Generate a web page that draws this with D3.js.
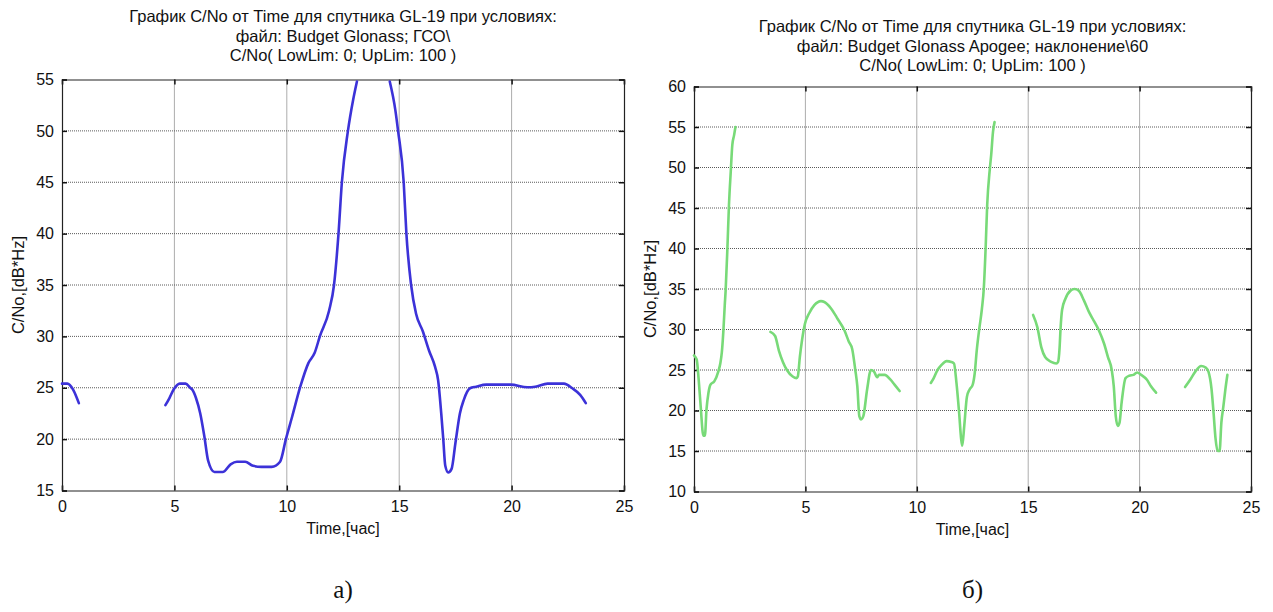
<!DOCTYPE html>
<html><head><meta charset="utf-8">
<script src="https://cdn.jsdelivr.net/npm/d3@7"></script>
<style>
html,body{margin:0;padding:0;background:#fff;}
text{font-family:"Liberation Sans",Arial,sans-serif;fill:#111;}
</style></head>
<body><svg id="c" width="1273" height="612"></svg>
<script>
// ---- data ----
const xTicks = [0, 5, 10, 15, 20, 25];
const yTicksA = [15, 20, 25, 30, 35, 40, 45, 50, 55];
const yTicksB = [10, 15, 20, 25, 30, 35, 40, 45, 50, 55, 60];

const titleA = ["График C/No от Time для спутника GL-19 при условиях:", "файл: Budget Glonass; ГСО\\", "C/No( LowLim: 0; UpLim: 100 )"];
const titleB = ["График C/No от Time для спутника GL-19 при условиях:", "файл: Budget Glonass Apogee; наклонение\\60", "C/No( LowLim: 0; UpLim: 100 )"];
const xLabel = "Time,[час]";
const yLabel = "C/No,[dB*Hz]";
const captions = ["а)", "б)"];

const blueSeg1 = [[0,25.4],[0.24,25.4],[0.5,24.8],[0.75,23.5]];
const blueSeg2 = [[4.6,23.3],[4.78,24.0],[4.96,24.8],[5.24,25.4],[5.5,25.4],[5.7,25.0],[5.8,24.8],[5.96,24.0],[6.15,22.5],[6.33,20.3],[6.5,17.9],[6.78,16.8],[7.15,16.8],[7.5,17.55],[7.78,17.8],[8.15,17.8],[8.5,17.4],[8.87,17.3],[9.33,17.3],[9.7,17.8],[9.96,20.0],[10.24,22.2],[10.6,25.1],[10.96,27.4],[11.24,28.4],[11.47,30.0],[11.88,32.5],[12.1,35],[12.3,40],[12.45,45],[12.72,50],[12.95,53],[13.12,54.8]];
const blueSeg3 = [[14.58,54.8],[14.83,52],[14.95,50],[15.2,45],[15.32,40],[15.53,35],[15.75,32.2],[16.05,30.5],[16.33,28.6],[16.6,27.0],[16.73,25.75],[16.87,22.5],[16.96,20.0],[17.05,17.4],[17.18,16.75],[17.33,17.1],[17.5,19.6],[17.7,22.5],[17.87,23.8],[18.15,24.95],[18.42,25.1],[18.87,25.3],[19.96,25.3],[20.7,25.05],[21.05,25.1],[21.6,25.4],[22.33,25.4],[22.7,24.95],[23.05,24.3],[23.3,23.5]];

const greenSeg1 = [[0,26.8],[0.12,26.3],[0.21,23.8],[0.3,20.5],[0.42,16.9],[0.49,16.9],[0.56,20.1],[0.65,22.2],[0.74,23.2],[0.91,23.6],[1.09,24.8],[1.18,25.8],[1.25,27.2],[1.32,29.9],[1.38,33],[1.42,34.8],[1.5,40.1],[1.57,45.4],[1.65,49.5],[1.72,52.8],[1.8,54],[1.86,55.0]];
const greenSeg2 = [[3.43,29.7],[3.64,29.2],[3.81,27.4],[3.99,26.0],[4.17,25.0],[4.43,24.2],[4.6,24.0],[4.66,24.2],[4.75,26.6],[4.85,28.7],[4.98,30.7],[5.17,32.0],[5.4,33.0],[5.7,33.5],[5.85,33.4],[6.15,32.6],[6.45,31.3],[6.75,29.9],[6.95,28.5],[7.1,27.6],[7.24,25.0],[7.33,23.0],[7.42,19.3],[7.5,18.9],[7.6,19.3],[7.77,22.6],[7.94,25.0],[8.08,24.8],[8.22,24.1],[8.3,24.4],[8.56,24.4],[8.82,23.8],[9.0,23.2],[9.23,22.4]];
const greenSeg3 = [[10.63,23.4],[10.76,24.0],[10.93,25.0],[11.1,25.6],[11.34,26.1],[11.55,26.0],[11.67,25.8],[11.78,23.4],[11.9,19.7],[11.99,16.5],[12.04,15.65],[12.13,18.1],[12.25,21.7],[12.37,22.6],[12.51,23.2],[12.6,24.6],[12.69,27.4],[12.8,30],[12.92,32.5],[13.01,35.2],[13.09,40.1],[13.16,45.4],[13.28,49.9],[13.34,51.6],[13.42,54.4],[13.49,55.6]];
const greenSeg4 = [[15.22,31.8],[15.41,30.3],[15.59,27.8],[15.76,26.6],[16.03,26.0],[16.26,25.8],[16.34,26.0],[16.41,27.8],[16.45,30],[16.52,32.4],[16.67,33.8],[16.9,34.8],[17.08,35.0],[17.27,34.8],[17.5,33.6],[17.72,32.2],[17.94,31.1],[18.17,29.9],[18.4,28.3],[18.58,26.6],[18.75,25.0],[18.84,23.0],[18.93,19.3],[19.02,18.1],[19.1,18.5],[19.19,20.9],[19.37,24.0],[19.54,24.3],[19.72,24.4],[19.89,24.7],[20.07,24.4],[20.33,23.8],[20.51,23.0],[20.74,22.2]];
const greenSeg5 = [[22.04,22.9],[22.27,23.8],[22.5,24.8],[22.76,25.5],[22.97,25.3],[23.09,24.8],[23.23,22.6],[23.32,19.7],[23.41,16.5],[23.5,15.0],[23.59,15.0],[23.67,18.5],[23.76,20.5],[23.85,22.6],[23.94,24.4]];

// ---- drawing ----
const svg = d3.select("#c");

function panel(cfg) {
  const {left, right, top, bottom, yDomain, yTicks, title, titleY, segs, color, caption} = cfg;
  const x = d3.scaleLinear().domain([0, 25]).range([left, right]);
  const y = d3.scaleLinear().domain(yDomain).range([bottom, top]);
  const g = svg.append("g");
  const cx = (left + right) / 2;

  // grid
  g.selectAll(".gx").data(xTicks.slice(1, -1)).enter().append("line")
    .attr("x1", d => x(d)).attr("x2", d => x(d)).attr("y1", top).attr("y2", bottom)
    .attr("stroke", "#5a5a5a").attr("stroke-width", 1).attr("stroke-dasharray", "1,1");
  g.selectAll(".gy").data(yTicks.slice(1, -1)).enter().append("line")
    .attr("y1", d => y(d)).attr("y2", d => y(d)).attr("x1", left).attr("x2", right)
    .attr("stroke", "#5a5a5a").attr("stroke-width", 1).attr("stroke-dasharray", "1,1");

  // axes (MATLAB-like: inward ticks on all four sides)
  const tl = 5;
  const axB = d3.axisBottom(x).tickValues(xTicks).tickSize(-tl).tickPadding(tl + 5).tickFormat(d3.format("d"));
  const axT = d3.axisTop(x).tickValues(xTicks).tickSize(-tl).tickFormat("");
  const axL = d3.axisLeft(y).tickValues(yTicks).tickSize(-tl).tickPadding(tl + 3).tickFormat(d3.format("d"));
  const axR = d3.axisRight(y).tickValues(yTicks).tickSize(-tl).tickFormat("");
  [[axB, `translate(0,${bottom})`], [axT, `translate(0,${top})`], [axL, `translate(${left},0)`], [axR, `translate(${right},0)`]].forEach(([ax, tr]) => {
    const a = g.append("g").attr("transform", tr).call(ax);
    a.select(".domain").attr("stroke", "#222").attr("stroke-width", 1.2);
    a.selectAll(".tick line").attr("stroke", "#111").attr("stroke-width", 1.5);
    a.selectAll("text").attr("font-size", 16).attr("font-family", "Liberation Sans, Arial").attr("fill", "#111");
  });

  // lines
  const line = d3.line().x(d => x(d[0])).y(d => y(d[1])).curve(d3.curveMonotoneX);
  segs.forEach(s => {
    g.append("path").datum(s).attr("d", line).attr("fill", "none")
      .attr("stroke", color).attr("stroke-width", 2.6).attr("stroke-linejoin", "round").attr("stroke-linecap", "round");
  });

  // title
  title.forEach((t, i) => {
    g.append("text").attr("x", cx).attr("y", titleY + i * 19.5).attr("text-anchor", "middle")
      .attr("font-size", 16.5).text(t);
  });
  // x label
  g.append("text").attr("x", cx).attr("y", bottom + 43).attr("text-anchor", "middle").attr("font-size", 16).text(xLabel);
  // y label
  g.append("text").attr("transform", `translate(${left - 38},${(top + bottom) / 2}) rotate(-90)`)
    .attr("text-anchor", "middle").attr("font-size", 16.5).text(yLabel);
  // caption
  g.append("text").attr("x", cx).attr("y", 598).attr("text-anchor", "middle")
    .style("font-family", "'Liberation Serif', 'Times New Roman', serif")
    .attr("font-size", 25).text(caption);
}

panel({left: 62, right: 624, top: 79.5, bottom: 490.5, yDomain: [15, 55], yTicks: yTicksA,
  title: titleA, titleY: 22, segs: [blueSeg1, blueSeg2, blueSeg3], color: "#3c32d8", caption: captions[0]});
panel({left: 694, right: 1251, top: 86.5, bottom: 491.5, yDomain: [10, 60], yTicks: yTicksB,
  title: titleB, titleY: 32, segs: [greenSeg1, greenSeg2, greenSeg3, greenSeg4, greenSeg5], color: "#78da78", caption: captions[1]});
</script></body></html>
